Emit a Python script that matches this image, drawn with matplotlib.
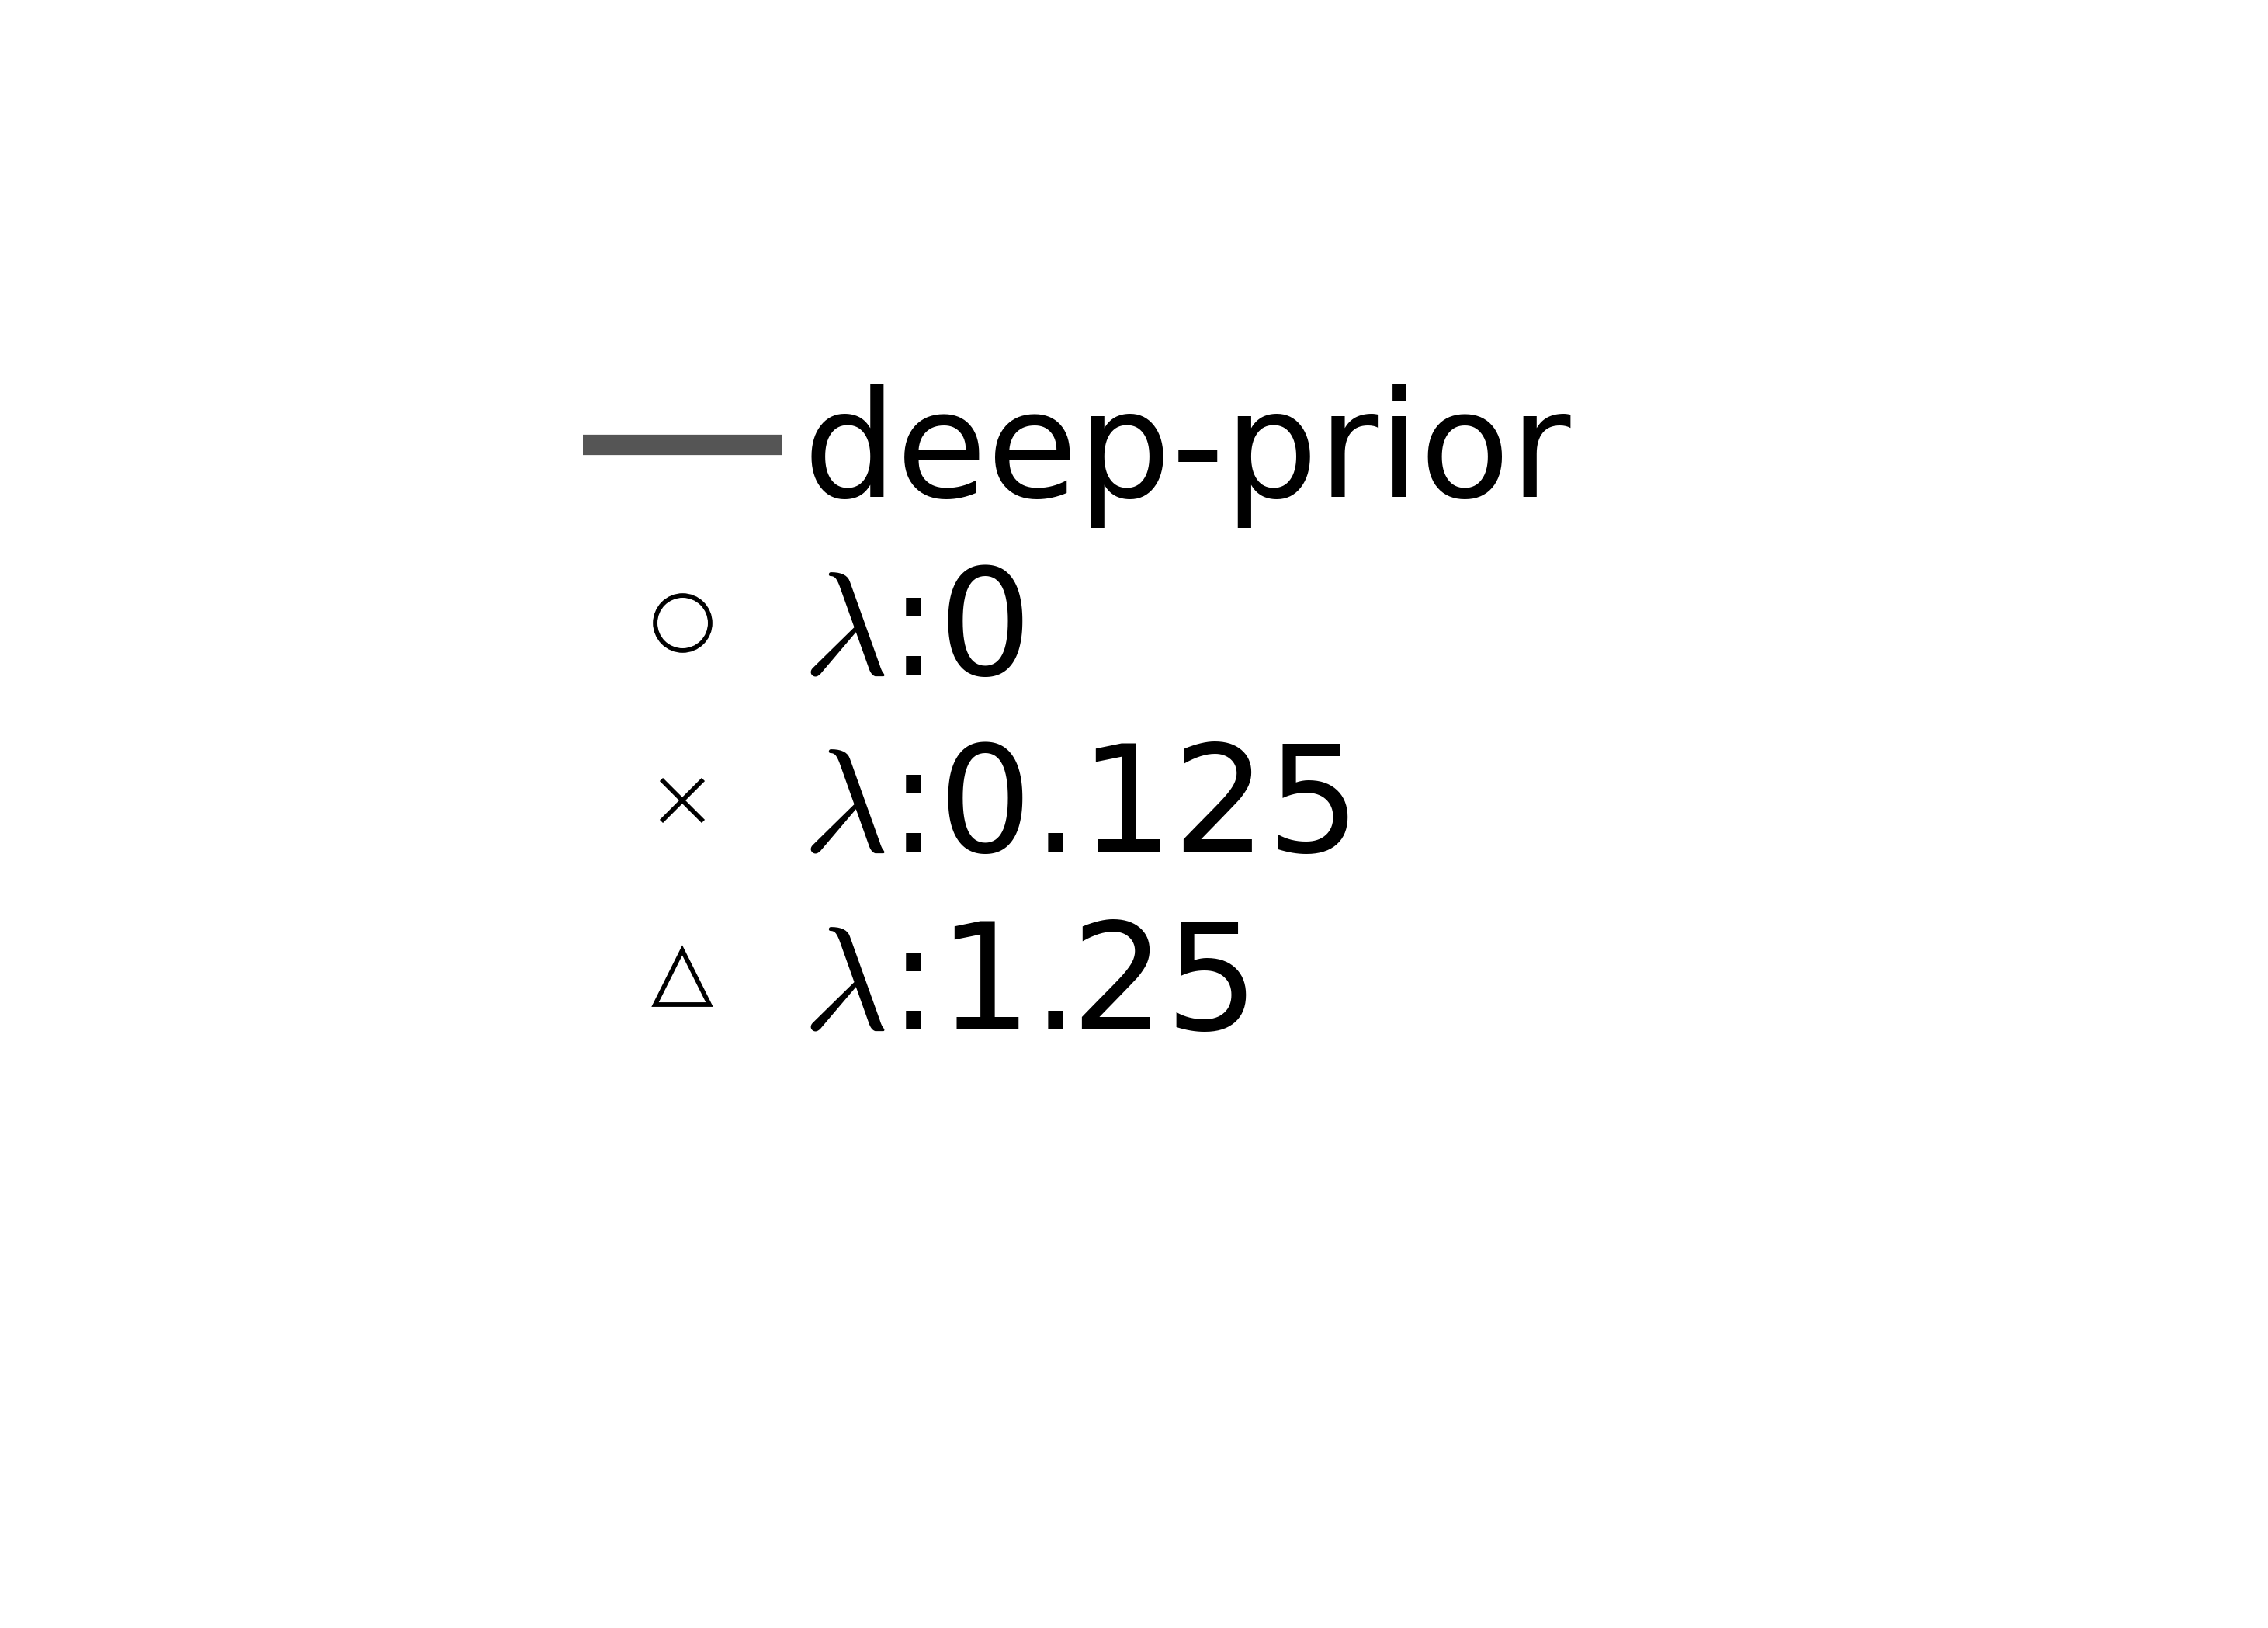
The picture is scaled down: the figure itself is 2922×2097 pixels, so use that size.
import matplotlib
matplotlib.use("Agg")
import matplotlib.pyplot as plt
from matplotlib.lines import Line2D

plt.rcParams['mathtext.fontset'] = 'cm'

labels = ["deep-prior", r"$\lambda$:0", r"$\lambda$:0.125", r"$\lambda$:1.25"]
markers = [None, "o", "x", "^"]
line_color = "#555555"

fig = plt.figure(figsize=(2922/300, 2097/300), dpi=300)

handles = [Line2D([], [], color=line_color, lw=6.3, solid_capstyle="butt")]
sizes = [None, 17, 13, 17]
for m, s in zip(markers[1:], sizes[1:]):
    handles.append(Line2D([], [], ls="none", marker=m, ms=s, mfc="none",
                          mec="black", color="black", mew=1.4))

leg = fig.legend(handles, labels, loc="upper left", bbox_to_anchor=(0.257, 0.764),
                 frameon=False, fontsize=45.6, handlelength=1.35, handletextpad=0.14,
                 labelspacing=0.23, borderpad=0, borderaxespad=0)
fig.savefig("out.png", dpi=300)
